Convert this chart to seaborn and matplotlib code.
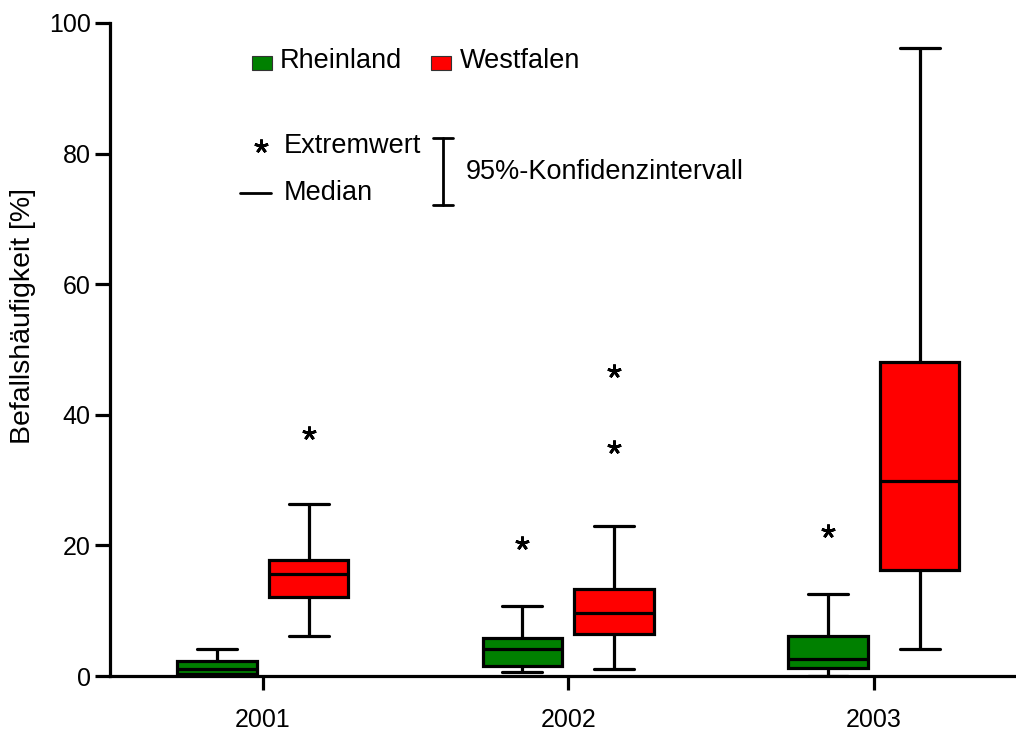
import matplotlib
matplotlib.use("Agg")
import matplotlib.pyplot as plt
import matplotlib.patches as mpatches
import pandas as pd
import seaborn as sns

# values (Befallshäufigkeit in %)
years = ["2001", "2002", "2003"]
regions = ["Rheinland", "Westfalen"]
colors = {"Rheinland": "#008000", "Westfalen": "#FF0000"}

# per group: year, region, lower whisker, q1, median, q3, upper whisker
box_year = ["2001", "2001", "2002", "2002", "2003", "2003"]
box_region = ["Rheinland", "Westfalen"] * 3
whisker_low = [0.0, 6.1, 0.6, 1.1, 0.0, 4.1]
q1 = [0.3, 12.1, 1.6, 6.4, 1.2, 16.2]
median = [1.0, 15.6, 4.1, 9.6, 2.6, 29.8]
q3 = [2.3, 17.8, 5.8, 13.3, 6.2, 48.1]
whisker_high = [4.1, 26.4, 10.7, 23.0, 12.5, 96.2]

# extreme values (asterisks)
out_year = ["2001", "2002", "2002", "2002", "2003"]
out_region = ["Westfalen", "Rheinland", "Westfalen", "Westfalen", "Rheinland"]
out_value = [37.2, 20.3, 35.0, 46.7, 22.2]
out_rank = [1, 1, 1, 2, 1]

rows = []
for i in range(len(box_year)):
    for v in (whisker_low[i], q1[i], median[i], q3[i], whisker_high[i]):
        rows.append({"Jahr": box_year[i], "Region": box_region[i], "Wert": v})
df = pd.DataFrame(rows)
out_df = pd.DataFrame({"Jahr": out_year, "Region": out_region,
                       "Wert": out_value, "n": out_rank})

sns.set_style("ticks")
plt.rcParams["font.family"] = ["Liberation Sans", "DejaVu Sans"]
plt.rcParams["text.color"] = "black"
plt.rcParams["axes.labelcolor"] = "black"
plt.rcParams["xtick.color"] = "black"
plt.rcParams["ytick.color"] = "black"

fig = plt.figure(figsize=(10.16, 7.31), dpi=100)
ax = fig.add_axes([110 / 1016, 55 / 731, 916.5 / 1016, 653 / 731])

lw = 2.3
sns.boxplot(data=df, x="Jahr", y="Wert", hue="Region", order=years,
            hue_order=regions, palette=colors, saturation=1, whis=(0, 100),
            width=0.6, gap=0.13, linecolor="black", linewidth=lw,
            showfliers=False, legend=False, ax=ax)

for rank, sub in out_df.groupby("n"):
    sns.pointplot(data=sub, x="Jahr", y="Wert", hue="Region", order=years,
                  hue_order=regions, palette=["black", "black"], dodge=0.3,
                  errorbar=None, linestyle="none", marker=(5, 2, 0),
                  markersize=10, markeredgewidth=2.0, legend=False, ax=ax)

ax.set_xlim(-0.5, 2.5)
ax.set_ylim(0, 100)
ax.set_yticks([0, 20, 40, 60, 80, 100])
ax.set_xlabel("")
ax.set_ylabel("Befallshäufigkeit [%]", fontsize=20.5)
ax.yaxis.set_label_coords(-0.081, 0.551)
ax.tick_params(axis="y", labelsize=18, length=11, width=lw, pad=3)
ax.tick_params(axis="x", labelsize=18, length=10, width=lw, pad=13)
sns.despine(ax=ax)
for s in ("left", "bottom"):
    ax.spines[s].set_linewidth(lw)
    ax.spines[s].set_color("black")
    ax.spines[s].set_zorder(0.5)

# legend / key drawn in axes coordinates
tr = ax.transAxes
fs = 19.5
ax.add_patch(mpatches.Rectangle((0.1549, 0.928), 0.0218, 0.0214, transform=tr,
                                facecolor=colors["Rheinland"], edgecolor="#333333",
                                linewidth=0.8, clip_on=False))
ax.text(0.1855, 0.9413, "Rheinland", transform=tr, fontsize=fs, va="center")
ax.add_patch(mpatches.Rectangle((0.3502, 0.928), 0.0218, 0.0214, transform=tr,
                                facecolor=colors["Westfalen"], edgecolor="#333333",
                                linewidth=0.8, clip_on=False))
ax.text(0.3819, 0.9413, "Westfalen", transform=tr, fontsize=fs, va="center")

ax.plot([0.1648], [0.811], transform=tr, marker=(5, 2, 0), markersize=10,
        markeredgewidth=2.0, color="black", clip_on=False)
ax.text(0.1899, 0.812, "Extremwert", transform=tr, fontsize=fs, va="center")
ax.plot([0.1418, 0.1757], [0.7397, 0.7397], transform=tr, color="black",
        linewidth=2, clip_on=False)
ax.text(0.1899, 0.7397, "Median", transform=tr, fontsize=fs, va="center")

ax.plot([0.3633, 0.3633], [0.7213, 0.8239], transform=tr, color="black", linewidth=2)
ax.plot([0.3524, 0.3743], [0.7213, 0.7213], transform=tr, color="black", linewidth=2)
ax.plot([0.3524, 0.3743], [0.8239, 0.8239], transform=tr, color="black", linewidth=2)
ax.text(0.3884, 0.7718, "95%-Konfidenzintervall", transform=tr, fontsize=fs, va="center")

fig.savefig("out.png", dpi=100)
